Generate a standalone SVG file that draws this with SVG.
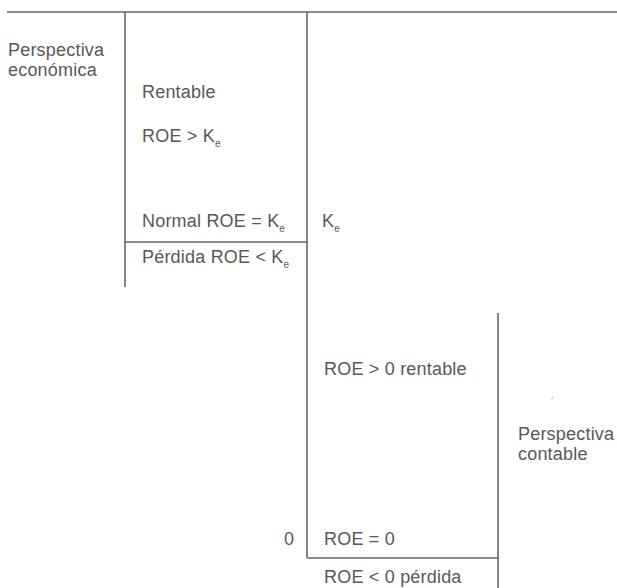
<svg xmlns="http://www.w3.org/2000/svg" width="617" height="588" viewBox="0 0 617 588">
  <style>
    .t { font-family: "Liberation Sans", Arial, sans-serif; font-size: 18px; fill: #585858; letter-spacing: 0.2px; }
    .sub { font-size: 10px; }
    .ln { stroke: #666; stroke-width: 1.6; fill: none; }
  </style>
  <rect width="617" height="588" fill="#fff"/>

  <!-- axis lines -->
  <g id="connectors">
    <line class="ln" x1="7" y1="12" x2="617" y2="12"/>
    <line class="ln" x1="125" y1="12" x2="125" y2="287"/>
    <line class="ln" x1="125" y1="242" x2="307" y2="242"/>
    <line class="ln" x1="307" y1="12" x2="307" y2="558"/>
    <line class="ln" x1="307" y1="558" x2="498" y2="558"/>
    <line class="ln" x1="498" y1="313" x2="498" y2="588"/>
  </g>

  <g id="economica">
    <text class="t" x="8" y="56">Perspectiva</text>
    <text class="t" x="8" y="76">económica</text>
  </g>
  <g id="rentable">
    <text class="t" x="142" y="98">Rentable</text>
    <text class="t" x="142" y="142">ROE &gt; K<tspan class="sub" dy="5">e</tspan></text>
  </g>
  <g id="normal">
    <text class="t" x="142" y="227">Normal ROE = K<tspan class="sub" dy="5">e</tspan></text>
  </g>
  <g id="perdida">
    <text class="t" x="142" y="263">Pérdida ROE &lt; K<tspan class="sub" dy="5">e</tspan></text>
  </g>
  <g id="ke">
    <text class="t" x="322" y="227">K<tspan class="sub" dy="5">e</tspan></text>
  </g>
  <g id="roe-pos">
    <text class="t" x="324" y="375">ROE &gt; 0 rentable</text>
  </g>
  <g id="contable">
    <text class="t" x="518" y="440">Perspectiva</text>
    <text class="t" x="518" y="460">contable</text>
  </g>
  <g id="cero">
    <text class="t" x="284" y="545">0</text>
    <text class="t" x="324" y="545">ROE = 0</text>
  </g>
  <g id="roe-neg">
    <text class="t" x="324" y="583">ROE &lt; 0 pérdida</text>
  </g>
  <!-- small pencil tick -->
  <path d="M551.5 399.5 L553.5 396.5" stroke="#bbb" stroke-width="1" fill="none"/>
</svg>
